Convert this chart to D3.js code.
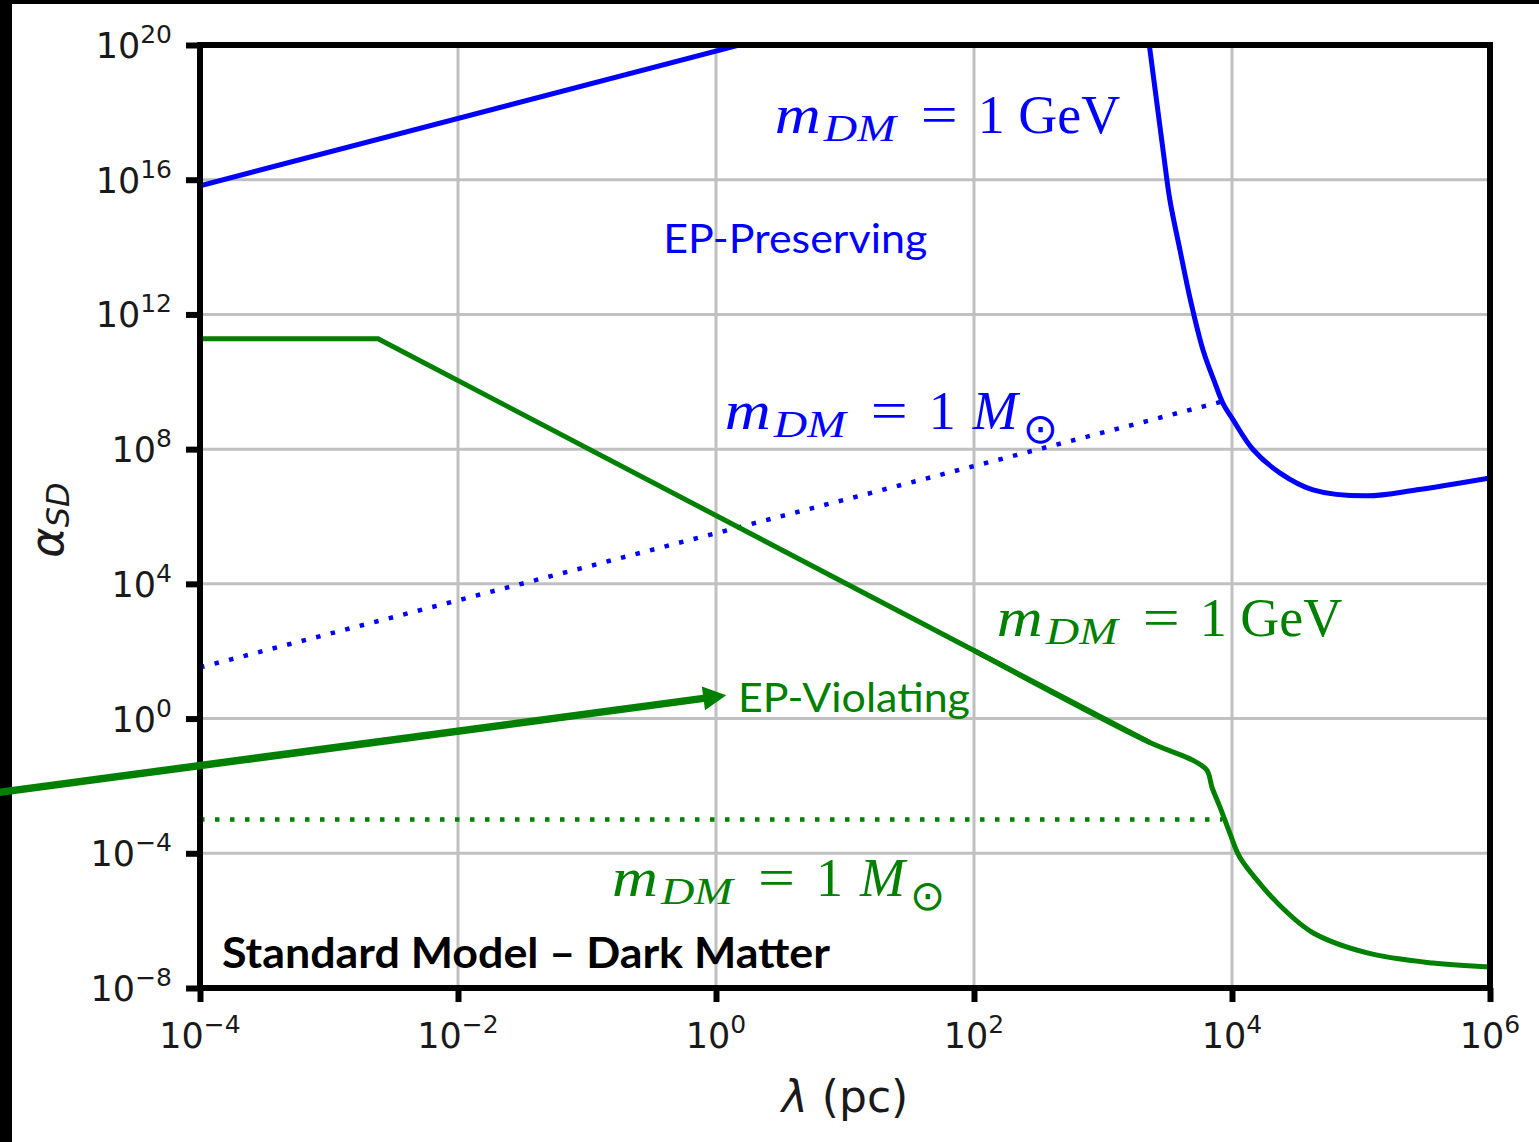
<!DOCTYPE html>

<head>
    <meta charset="utf-8">

    <style>
        body {
            margin: 0;
            background: #fff;
        }

        svg {
            position: absolute;
            top: 0;
            left: 0;
        }

        .grid line {
            stroke: #c0c0c0;
            stroke-width: 3;
        }

        .axis path {
            display: none;
        }

        .axis line {
            stroke: #000;
            stroke-width: 6;
        }

        .tick-label {
            font-family: 'DejaVu Sans', sans-serif;
            font-size: 35px;
            fill: #1a1a1a;
        }

        .axis-title {
            font-family: 'DejaVu Sans', sans-serif;
            fill: #1a1a1a;
        }

        .math {
            font-family: 'Liberation Serif', serif;
            font-size: 54px;
        }

        .note {
            font-family: 'Lato', sans-serif;
            font-size: 40px;
        }
    </style>

    <script src="https://d3js.org/d3.v7.min.js"></script>
</head>

<body>
    <script>
        ////////////// Data //////////////

        const x_ticks = [1e-4, 1e-2, 1e0, 1e2, 1e4, 1e6]
        const x_tick_exp = ["\u22124", "\u22122", "0", "2", "4", "6"]
        const y_ticks = [1e-8, 1e-4, 1e0, 1e4, 1e8, 1e12, 1e16, 1e20]
        const y_tick_exp = ["\u22128", "\u22124", "0", "4", "8", "12", "16", "20"]

        //EP-preserving, m_DM = 1 GeV (two branches)
        const blue_gev_left_lambda = [1e-4, 10]
        const blue_gev_left_alpha = [6.6e15, 6.6e20]
        const blue_gev_right_lambda = [2.15e3, 2.28e3, 2.92e3, 3.30e3, 3.95e3, 4.72e3, 5.96e3, 7.38e3, 8.51e3, 1.02e4, 1.46e4, 2.36e4, 4.25e4, 1.11e5, 2.72e5, 1e6]
        const blue_gev_right_alpha = [5.5e20, 1.07e20, 7.6e16, 2.5e15, 8.2e13, 3.1e12, 8.8e10, 9.1e9, 2.3e9, 7.4e8, 9.6e7, 1.95e7, 6.2e6, 4.1e6, 6.2e6, 1.4e7]

        //EP-preserving, m_DM = 1 M_sun
        const blue_msun_lambda = [1e-4, 8.4e3]
        const blue_msun_alpha = [33, 2.6e9]

        //EP-violating, m_DM = 1 GeV: plateau + power law, then the bend
        const green_gev_lambda = [1e-4, 2.4e-3, 1e2, 2.31e3]
        const green_gev_alpha = [1.9e11, 1.9e11, 1.05e2, 0.195]
        const green_bend_lambda = [1e2, 2.31e3, 4.99e3, 6.4e3, 7.0e3, 8.07e3, 9.64e3, 1.15e4, 1.74e4, 2.58e4, 4.27e4, 1.12e5, 3.6e5, 1e6]
        const green_bend_alpha = [1.05e2, 0.195, 5.75e-2, 2.9e-2, 9.1e-3, 2.34e-3, 3.9e-4, 7.6e-5, 9.8e-6, 2.0e-6, 4.3e-7, 1.1e-7, 5.5e-8, 4.2e-8]

        //EP-violating, m_DM = 1 M_sun
        const green_msun_lambda = [1e-4, 8.4e3]
        const green_msun_alpha = [1e-3, 1e-3]

        //Arrow pointing at the EP-violating region (tail starts off the page)
        const arrow_lambda = [1.97e-6, 1.2]
        const arrow_alpha = [5.4e-3, 4.9]

        ////////////// Create the SVG //////////////

        const W = 1539, H = 1142
        const plot = { left: 200, right: 1490, top: 45, bottom: 988 }

        const svg = d3.select("body")
            .append("svg")
            .attr("width", W)
            .attr("height", H)

        svg.append("rect").attr("width", W).attr("height", H).attr("fill", "#fff")

        ////////////// Scales //////////////

        const x_scale = d3.scaleLog()
            .domain([1e-4, 1e6])
            .range([plot.left, plot.right])

        const y_scale = d3.scaleLog()
            .domain([1e-8, 1e20])
            .range([plot.bottom, plot.top])

        svg.append("clipPath").attr("id", "plot-clip")
            .append("rect")
            .attr("x", plot.left).attr("y", plot.top)
            .attr("width", plot.right - plot.left)
            .attr("height", plot.bottom - plot.top)

        ////////////// Grid //////////////

        const grid = svg.append("g").attr("class", "grid")
        grid.selectAll(".gx").data(x_ticks).join("line")
            .attr("x1", d => x_scale(d)).attr("x2", d => x_scale(d))
            .attr("y1", plot.top).attr("y2", plot.bottom)
        grid.selectAll(".gy").data(y_ticks).join("line")
            .attr("y1", d => y_scale(d)).attr("y2", d => y_scale(d))
            .attr("x1", plot.left).attr("x2", plot.right)

        ////////////// Curves //////////////

        const curves = svg.append("g").attr("clip-path", "url(#plot-clip)")

        const line = d3.line()
            .x(d => x_scale(d[0]))
            .y(d => y_scale(d[1]))

        function add_curve(lams, alphas, color, dash, curve) {
            curves.append("path")
                .datum(d3.zip(lams, alphas))
                .attr("fill", "none")
                .attr("stroke", color)
                .attr("stroke-width", dash ? 4.5 : 5)
                .attr("stroke-dasharray", dash ? "4.5,10.5" : null)
                .attr("d", line.curve(curve || d3.curveLinear))
        }

        add_curve(blue_gev_left_lambda, blue_gev_left_alpha, "#0000ff", false)
        add_curve(blue_gev_right_lambda, blue_gev_right_alpha, "#0000ff", false, d3.curveCatmullRom.alpha(0.5))
        add_curve(blue_msun_lambda, blue_msun_alpha, "#0000ff", true)
        add_curve(green_gev_lambda, green_gev_alpha, "#008000", false)
        add_curve(green_bend_lambda, green_bend_alpha, "#008000", false, d3.curveCatmullRom.alpha(0.5))
        add_curve(green_msun_lambda, green_msun_alpha, "#008000", true)

        ////////////// Axes //////////////

        const x_axis = svg.append("g")
            .attr("class", "axis x")
            .attr("transform", "translate(0," + plot.bottom + ")")
            .call(d3.axisBottom(x_scale).tickValues(x_ticks).tickSize(14).tickFormat(""))

        const y_axis = svg.append("g")
            .attr("class", "axis y")
            .attr("transform", "translate(" + plot.left + ",0)")
            .call(d3.axisLeft(y_scale).tickValues(y_ticks).tickSize(14).tickFormat(""))

        //Frame
        svg.append("rect")
            .attr("x", plot.left).attr("y", plot.top)
            .attr("width", plot.right - plot.left)
            .attr("height", plot.bottom - plot.top)
            .attr("fill", "none")
            .attr("stroke", "#000")
            .attr("stroke-width", 6)

        //Tick labels as 10^n
        function power_label(sel, exp) {
            sel.append("tspan").text("10")
            sel.append("tspan").attr("dy", -15).style("font-size", "25px").text(exp)
        }

        x_ticks.forEach((d, i) => {
            svg.append("text")
                .attr("class", "tick-label")
                .attr("x", x_scale(d))
                .attr("y", 1048)
                .attr("text-anchor", "middle")
                .call(power_label, x_tick_exp[i])
        })

        y_ticks.forEach((d, i) => {
            svg.append("text")
                .attr("class", "tick-label")
                .attr("x", 172)
                .attr("y", y_scale(d) + 13)
                .attr("text-anchor", "end")
                .call(power_label, y_tick_exp[i])
        })

        //Axis titles
        const x_title = svg.append("text")
            .attr("class", "axis-title")
            .attr("x", 845)
            .attr("y", 1112)
            .attr("text-anchor", "middle")
            .style("font-size", "44px")
        x_title.append("tspan").attr("font-style", "italic").text("\u03bb")
        x_title.append("tspan").text(" (pc)")

        const y_title = svg.append("text")
            .attr("class", "axis-title")
            .attr("transform", "translate(63,520) rotate(-90)")
            .attr("text-anchor", "middle")
            .style("font-size", "46px")
        y_title.append("tspan").attr("font-style", "italic").text("\u03b1")
        y_title.append("tspan").attr("font-style", "italic").style("font-size", "32px").attr("dy", 6).text("SD")

        ////////////// Annotations //////////////

        function mass_label(lam, alpha, color, unit) {
            const g = svg.append("g")
                .attr("transform", "translate(" + x_scale(lam) + "," + y_scale(alpha) + ")")
                .attr("fill", color)
            g.append("text").attr("class", "math").attr("font-style", "italic")
                .attr("textLength", 46).attr("lengthAdjust", "spacingAndGlyphs").text("m")
            g.append("text").attr("class", "math").attr("font-style", "italic")
                .attr("x", 49).attr("y", 8).style("font-size", "38px")
                .attr("textLength", 72).attr("lengthAdjust", "spacingAndGlyphs").text("DM")
            g.append("text").attr("class", "math")
                .attr("x", 146).attr("textLength", 37).attr("lengthAdjust", "spacingAndGlyphs").text("=")
            if (unit === "GeV") {
                g.append("text").attr("class", "math").attr("x", 203).text("1 GeV")
            } else {
                g.append("text").attr("class", "math").attr("x", 204).text("1")
                g.append("text").attr("class", "math").attr("font-style", "italic").attr("x", 248).text("M")
                g.append("text").attr("x", 298).attr("y", 14)
                    .attr("font-family", "'DejaVu Sans', sans-serif").style("font-size", "42px").text("\u2299")
            }
        }

        mass_label(2.86, 2.4e17, "#0000ff", "GeV")
        mass_label(1.17, 4.1e8, "#0000ff", "Msun")
        mass_label(150, 2.8e2, "#008000", "GeV")
        mass_label(0.156, 5.4e-6, "#008000", "Msun")

        svg.append("text").attr("class", "note")
            .attr("x", x_scale(0.39)).attr("y", y_scale(6.8e13))
            .attr("fill", "#0000ff")
            .attr("textLength", 264).attr("lengthAdjust", "spacingAndGlyphs")
            .text("EP-Preserving")

        svg.append("text").attr("class", "note")
            .attr("x", x_scale(1.48)).attr("y", y_scale(1.53))
            .attr("fill", "#008000")
            .attr("textLength", 232).attr("lengthAdjust", "spacingAndGlyphs")
            .text("EP-Violating")

        svg.append("text").attr("class", "note")
            .attr("x", x_scale(1.48e-4)).attr("y", y_scale(3.9e-8))
            .attr("fill", "#000")
            .attr("font-weight", 700)
            .style("font-size", "42px")
            .attr("textLength", 608).attr("lengthAdjust", "spacingAndGlyphs")
            .text("Standard Model \u2013 Dark Matter")

        ////////////// Screenshot border //////////////

        svg.append("rect").attr("x", 0).attr("y", 0).attr("width", 12).attr("height", H).attr("fill", "#000")
        svg.append("rect").attr("x", 0).attr("y", 0).attr("width", W).attr("height", 4).attr("fill", "#000")

        ////////////// Arrow //////////////

        const tail = [x_scale(arrow_lambda[0]), y_scale(arrow_alpha[0])]
        const tip = [x_scale(arrow_lambda[1]), y_scale(arrow_alpha[1])]
        const ang = Math.atan2(tip[1] - tail[1], tip[0] - tail[0])
        const head_len = 23, head_half = 12
        const base = [tip[0] - head_len * Math.cos(ang), tip[1] - head_len * Math.sin(ang)]

        svg.append("line")
            .attr("x1", tail[0]).attr("y1", tail[1])
            .attr("x2", base[0] + 2 * Math.cos(ang)).attr("y2", base[1] + 2 * Math.sin(ang))
            .attr("stroke", "#008000")
            .attr("stroke-width", 7.5)

        svg.append("path")
            .attr("fill", "#008000")
            .attr("d", d3.line()([
                tip,
                [base[0] + head_half * Math.sin(ang), base[1] - head_half * Math.cos(ang)],
                [base[0] - head_half * Math.sin(ang), base[1] + head_half * Math.cos(ang)]
            ]) + "Z")
    </script>
</body>
